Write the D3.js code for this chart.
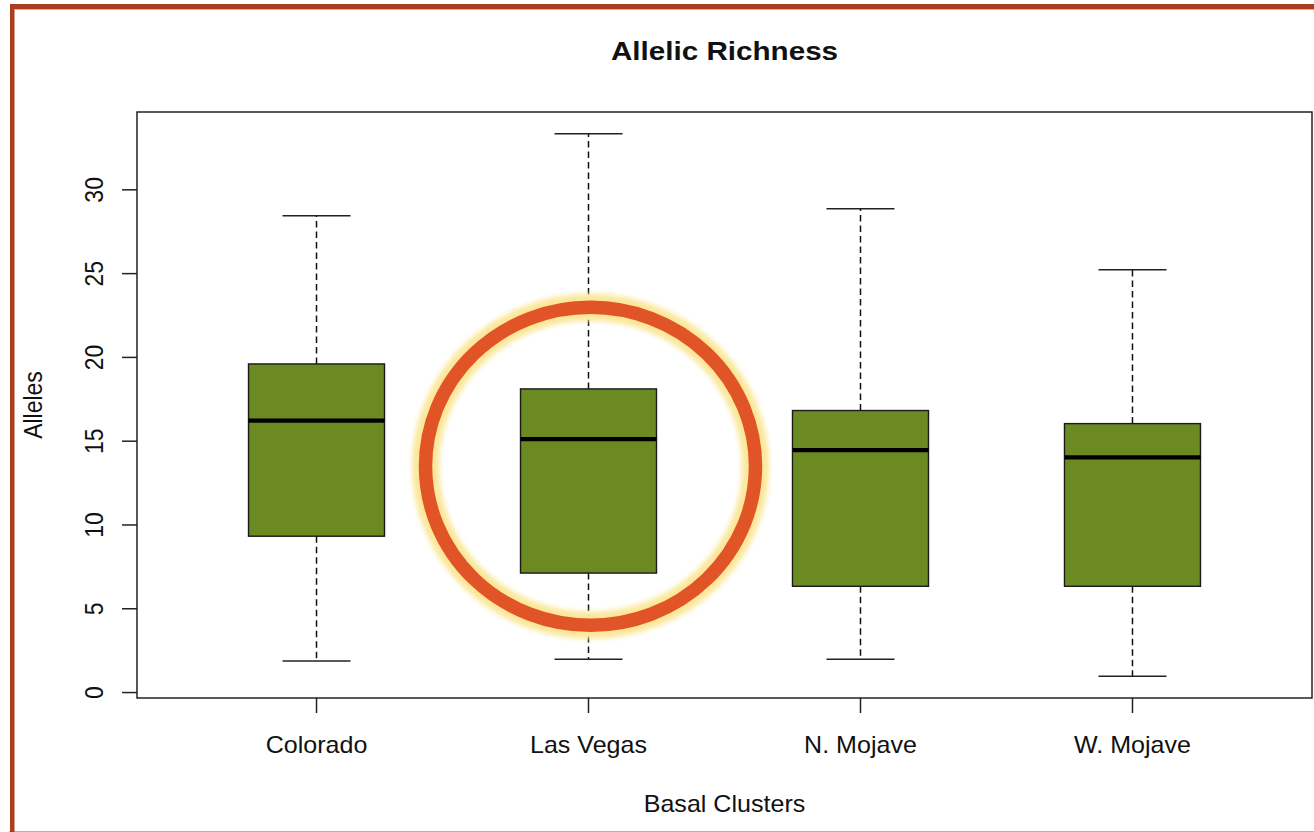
<!DOCTYPE html>
<html>
<head>
<meta charset="utf-8">
<script src="https://cdn.jsdelivr.net/npm/d3@7"></script>
<style>
  html, body { margin: 0; padding: 0; background: #fff; }
  svg { display: block; }
  text { font-family: "Liberation Sans", Arial, sans-serif; fill: #111; }
</style>
</head>
<body>
<svg id="chart" width="1314" height="832"></svg>
<script>
// Allelic richness per basal cluster: five-number summaries for each box
const categories = ["Colorado", "Las Vegas", "N. Mojave", "W. Mojave"];
const whiskerLow  = [1.88, 1.99, 1.99, 0.97];
const quartile1   = [9.33, 7.13, 6.34, 6.34];
const medians     = [16.23, 15.12, 14.47, 14.03];
const quartile3   = [19.61, 18.12, 16.83, 16.05];
const whiskerHigh = [28.45, 33.35, 28.87, 25.23];
const yTicks = [0, 5, 10, 15, 20, 25, 30];
const highlighted = "Las Vegas";
const highlightCentre = 13.5;

const titleText = "Allelic Richness";
const xTitle = "Basal Clusters";
const yTitle = "Alleles";

const svg = d3.select("#chart");

// plot region
const plotL = 137, plotR = 1312, plotT = 112, plotB = 698;

// extend ranges by 4% on each side like a base-graphics plot
const lo = d3.min(whiskerLow), hi = d3.max(whiskerHigh);
const pad = (hi - lo) * 0.04;
const y = d3.scaleLinear().domain([lo - pad, hi + pad]).range([plotB, plotT]);
const n = categories.length;
const xpad = n * 0.04;
const x = d3.scaleLinear().domain([0.5 - xpad, n + 0.5 + xpad]).range([plotL, plotR]);
const pos = i => x(i + 1);
const boxHalf = x(1.25) - x(1);
const capHalf = boxHalf / 2;

// outer frame
svg.append("rect").attr("x", 0).attr("y", 0).attr("width", 1314).attr("height", 832).attr("fill", "#fff");
svg.append("line").attr("x1", 9).attr("x2", 1314).attr("y1", 831.5).attr("y2", 831.5)
  .attr("stroke", "#dba595").attr("stroke-width", 1);
svg.append("rect").attr("x", 10).attr("y", 4).attr("width", 1304).attr("height", 5).attr("fill", "#a93f1e");
svg.append("rect").attr("x", 10).attr("y", 4).attr("width", 4.5).attr("height", 828).attr("fill", "#a93f1e");
svg.append("line").attr("x1", 14.5).attr("x2", 1314).attr("y1", 9.5).attr("y2", 9.5)
  .attr("stroke", "#e8a48c").attr("stroke-width", 1);

// text helper with slight horizontal stretch
function label(txt, tx, ty, size, opts = {}) {
  const sx = opts.sx || 1.07;
  const rot = opts.rotate ? ` rotate(${opts.rotate})` : "";
  return svg.append("text")
    .attr("transform", `translate(${tx},${ty}) scale(${sx},1)${rot}`)
    .attr("text-anchor", "middle")
    .attr("font-size", size)
    .attr("font-weight", opts.bold ? "bold" : "normal")
    .text(txt);
}

// boxes
const g = svg.append("g");
categories.forEach((c, i) => {
  const cx = pos(i);
  // whiskers
  g.append("line").attr("x1", cx).attr("x2", cx)
    .attr("y1", y(quartile3[i])).attr("y2", y(whiskerHigh[i]))
    .attr("stroke", "#111").attr("stroke-width", 1.5).attr("stroke-dasharray", "6.5,4");
  g.append("line").attr("x1", cx).attr("x2", cx)
    .attr("y1", y(quartile1[i])).attr("y2", y(whiskerLow[i]))
    .attr("stroke", "#111").attr("stroke-width", 1.5).attr("stroke-dasharray", "6.5,4");
  // staples
  [whiskerHigh[i], whiskerLow[i]].forEach(v => {
    g.append("line").attr("x1", cx - capHalf).attr("x2", cx + capHalf)
      .attr("y1", y(v)).attr("y2", y(v))
      .attr("stroke", "#222").attr("stroke-width", 1.4);
  });
  // box
  g.append("rect")
    .attr("x", cx - boxHalf).attr("width", boxHalf * 2)
    .attr("y", y(quartile3[i])).attr("height", y(quartile1[i]) - y(quartile3[i]))
    .attr("fill", "#6b8a22").attr("stroke", "#1a1a1a").attr("stroke-width", 1.4);
  // median
  g.append("line").attr("x1", cx - boxHalf).attr("x2", cx + boxHalf)
    .attr("y1", y(medians[i])).attr("y2", y(medians[i]))
    .attr("stroke", "#000").attr("stroke-width", 4.2);
});

// plot border
svg.append("rect").attr("x", plotL).attr("y", plotT)
  .attr("width", plotR - plotL).attr("height", plotB - plotT)
  .attr("fill", "none").attr("stroke", "#222").attr("stroke-width", 1.5);

// y axis ticks and labels
yTicks.forEach(t => {
  svg.append("line").attr("x1", plotL - 15).attr("x2", plotL)
    .attr("y1", y(t)).attr("y2", y(t)).attr("stroke", "#222").attr("stroke-width", 1.5);
  label(String(t), 102.5, y(t), 23, { rotate: -90, sx: 1.12 });
});

// x axis ticks and labels
categories.forEach((c, i) => {
  svg.append("line").attr("x1", pos(i)).attr("x2", pos(i))
    .attr("y1", plotB).attr("y2", plotB + 15).attr("stroke", "#222").attr("stroke-width", 1.5);
  label(c, pos(i), 753, 23, { sx: 1.09 });
});

// titles
label(titleText, (plotL + plotR) / 2, 60, 26, { bold: true, sx: 1.14 });
label(xTitle, (plotL + plotR) / 2, 812, 23, { sx: 1.09 });
label(yTitle, 42, (plotT + plotB) / 2, 23, { rotate: -90, sx: 1.12 });

// highlight ring around one cluster
const defs = svg.append("defs");
defs.append("filter").attr("id", "glow").attr("x", "-20%").attr("y", "-20%")
  .attr("width", "140%").attr("height", "140%")
  .append("feGaussianBlur").attr("stdDeviation", 2.5);
const hiIdx = categories.indexOf(highlighted);
const hx = pos(hiIdx) + 2, hy = y(highlightCentre);
svg.append("ellipse").attr("cx", hx).attr("cy", hy).attr("rx", 165).attr("ry", 159)
  .attr("fill", "none").attr("stroke", "#fce79a").attr("stroke-width", 27)
  .attr("filter", "url(#glow)");
svg.append("ellipse").attr("cx", hx).attr("cy", hy).attr("rx", 165).attr("ry", 159)
  .attr("fill", "none").attr("stroke", "#e05428").attr("stroke-width", 13.5);
</script>
</body>
</html>
